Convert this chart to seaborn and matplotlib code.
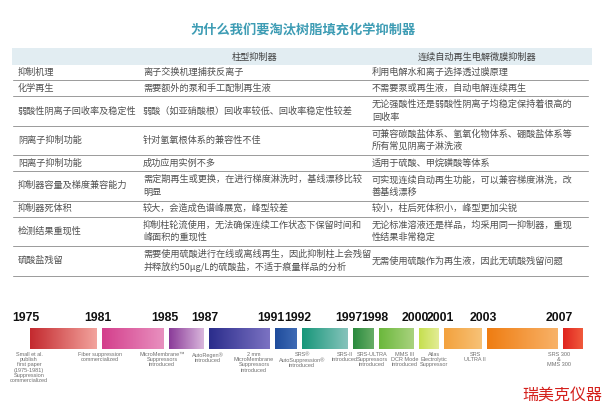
import numpy as np
import matplotlib.pyplot as plt
import seaborn as sns

# Table content
title = "为什么我们要淘汰树脂填充化学抑制器"
col_headers = ["柱型抑制器", "连续自动再生电解微膜抑制器"]
row_labels = [
    "抑制机理",
    "化学再生",
    "弱酸性阴离子回收率及稳定性",
    "阴离子抑制功能",
    "阳离子抑制功能",
    "抑制器容量及梯度兼容能力",
    "抑制器死体积",
    "检测结果重现性",
    "硫酸盐残留",
]
column_suppressor = [
    "离子交换机理捕获反离子",
    "需要额外的泵和手工配制再生液",
    "弱酸（如亚硝酸根）回收率较低、回收率稳定性较差",
    "针对氢氧根体系的兼容性不佳",
    "成功应用实例不多",
    "需定期再生或更换，在进行梯度淋洗时，基线漂移比较\n明显",
    "较大，会造成色谱峰展宽，峰型较差",
    "抑制柱轮流使用，无法确保连续工作状态下保留时间和\n峰面积的重现性",
    "需要使用硫酸进行在线或离线再生，因此抑制柱上会残留\n并释放约50μg/L的硫酸盐，不适于痕量样品的分析",
]
electrolytic_suppressor = [
    "利用电解水和离子选择透过膜原理",
    "不需要泵或再生液，自动电解连续再生",
    "无论强酸性还是弱酸性阴离子均稳定保持着很高的\n回收率",
    "可兼容碳酸盐体系、氢氧化物体系、硼酸盐体系等\n所有常见阴离子淋洗液",
    "适用于硫酸、甲烷磺酸等体系",
    "可实现连续自动再生功能，可以兼容梯度淋洗，改\n善基线漂移",
    "较小，柱后死体积小，峰型更加尖锐",
    "无论标准溶液还是样品，均采用同一抑制器，重现\n性结果非常稳定",
    "无需使用硫酸作为再生液，因此无硫酸残留问题",
]

# Timeline content
years = ["1975", "1981", "1985", "1987", "1991", "1992",
         "1997", "1998", "2000", "2001", "2003", "2007"]
era_len = [66.5, 61.5, 34.5, 60.5, 21.5, 45.5, 20.5, 34.5, 19.5, 37.5, 70.5, 20]
captions = [
    "Small et al.\npublish\nfirst paper\n(1975-1981)\nSuppression\ncommercialized",
    "Fiber suppression\ncommercialized",
    "MicroMembrane™\nSuppressors\nintroduced",
    "AutoRegen®\nintroduced",
    "2 mm\nMicroMembrane\nSuppressors\nintroduced",
    "SRS®\nAutoSuppression®\nintroduced",
    "SRS-II\nintroduced",
    "SRS-ULTRA\nSuppressors\nintroduced",
    "MMS III\nDCR Mode\nintroduced",
    "Atlas\nElectrolytic\nSuppressor",
    "SRS\nULTRA II",
    "SRS 300\n&\nMMS 300",
]
start_colors = ["#c42a2f", "#d43f8c", "#8b3c99", "#2b2d8c", "#1f4c9c", "#17977a",
                "#2a8a3e", "#6bb83c", "#c5df4f", "#f3a13d", "#ef7d12", "#e0241f"]
end_colors = ["#f2a39d", "#e890bf", "#d9b6dc", "#7b72c2", "#3f6bb5", "#86c3bb",
              "#67ad66", "#a9d27e", "#e3ec95", "#f7c277", "#f8b268", "#f05a3c"]
caption_nudge = [2, 1, -4, 2, -18, 3, -5, -4, -11, -7, -9, -1]

sns.set_theme(style="white")
plt.rcParams["font.family"] = ["Noto Sans CJK SC", "DejaVu Sans"]

fig = plt.figure(figsize=(6.07, 4.12), dpi=100)
ax = fig.add_axes([0, 0, 1, 1])
ax.axis("off")

# Title
ax.text(303, 31, title, ha="center", va="center", color="#3d9cb4",
        fontsize=9.5, fontweight="bold")

# Header band
ax.add_patch(plt.Rectangle((12, 48), 580, 17, color="#e2edf2", lw=0))
ax.text(254, 57, col_headers[0], ha="center", va="center", fontsize=6.6, color="#404040")
ax.text(477, 57, col_headers[1], ha="center", va="center", fontsize=6.6, color="#404040")

col_x = [18, 143, 372]
y = 64
for lab, a, b in zip(row_labels, column_suppressor, electrolytic_suppressor):
    n = max(a.count("\n"), b.count("\n")) + 1
    h = 16 if n == 1 else 29.5
    yc = y + h / 2
    for x, txt in zip(col_x, (lab, a, b)):
        ax.text(x, yc, txt, ha="left", va="center", fontsize=6.6,
                color="#505050", linespacing=1.45)
    y += h
    ax.plot([13, 588], [y, y], color="#9a9a9a", lw=0.7)

# Timeline bars
gap = 5.5
lefts = 30 + np.concatenate([[0], np.cumsum(np.array(era_len[:-1]) + gap)])
grad = np.linspace(0, 1, 64)[None, :]
for i, (yr, w, cap) in enumerate(zip(years, era_len, captions)):
    left = lefts[i]
    cmap = sns.blend_palette([start_colors[i], end_colors[i]], as_cmap=True)
    ax.imshow(grad, cmap=cmap, extent=(left, left + w, 349, 328), aspect="auto")
    ax.text(left - 4, 318, yr, ha="center", va="center", fontsize=8.8,
            fontweight="bold", color="#111111", family=["Liberation Sans"])
    ax.text(left - 3 + caption_nudge[i], 352, cap, ha="center", va="top",
            fontsize=4, color="#707070", linespacing=1.05,
            family=["Liberation Sans"])

# Watermark
ax.text(562, 395, "瑞美克仪器", ha="center", va="center", fontsize=11.5,
        color="#d4201c")

ax.set_xlim(0, 607)
ax.set_ylim(412, 0)
fig.savefig("out.png", dpi=100)
